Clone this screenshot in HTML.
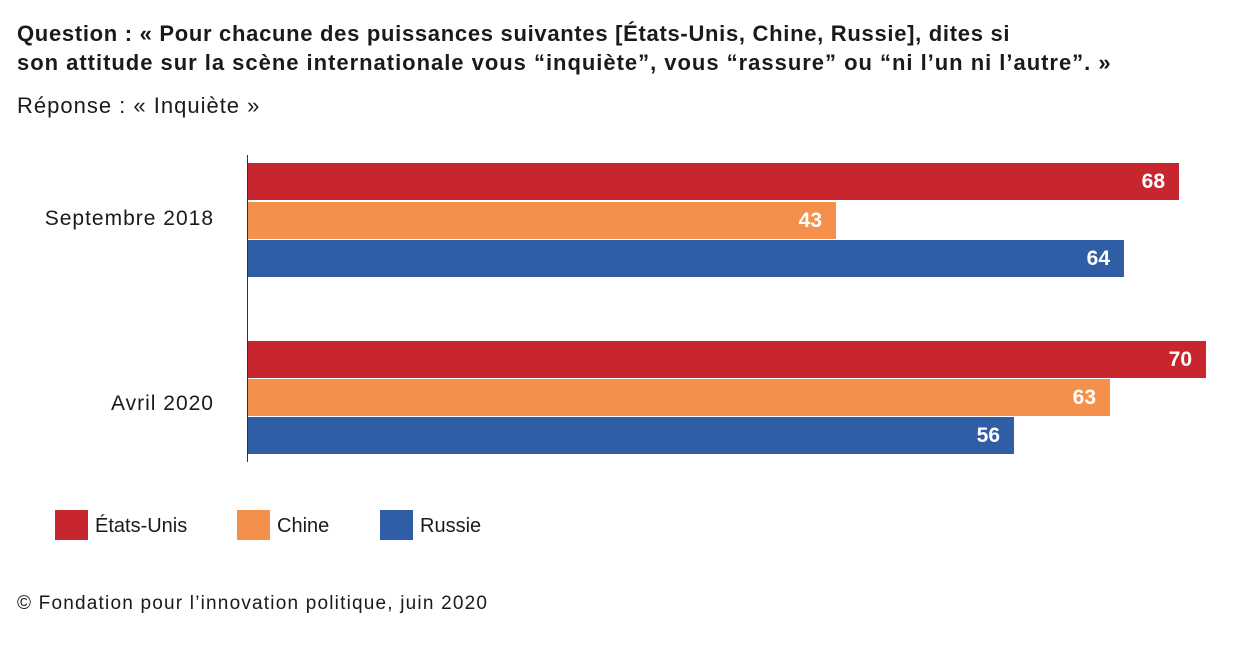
<!DOCTYPE html>
<html><head><meta charset="utf-8"><style>
body{margin:0;width:1250px;height:670px;background:#fff;font-family:"Liberation Sans",sans-serif;color:#1a1a1a;position:relative;overflow:hidden}
.a{position:absolute;white-space:nowrap}
.t{font-weight:bold;font-size:22px}
.bar{position:absolute;left:248px;height:37px}
.bar span{position:absolute;right:14px;top:7px;color:#fff;font-weight:bold;font-size:21px}
.r{background:#c8262f}.o{background:#f4904a}.b{background:#2f5da6}
.sq{position:absolute;width:33px;height:30px;top:510px}
.lg{font-size:20px;top:515px}
.yl{font-size:21px;letter-spacing:1px;width:214px;left:0;text-align:right}
</style></head><body>
<div class="a t" style="left:17px;top:21px;letter-spacing:0.7px">Question : « Pour chacune des puissances suivantes [États-Unis, Chine, Russie], dites si</div>
<div class="a t" style="left:17px;top:50px;letter-spacing:0.98px">son attitude sur la scène internationale vous “inquiète”, vous “rassure” ou “ni l’un ni l’autre”. »</div>
<div class="a" style="left:17px;top:93px;font-size:22px;letter-spacing:1px">Réponse : « Inquiète »</div>
<div class="a" style="left:247px;top:155px;width:1px;height:307px;background:#333"></div>
<div class="a yl" style="top:207px">Septembre 2018</div>
<div class="a yl" style="top:392px">Avril 2020</div>
<div class="bar r" style="top:163px;width:931px"><span>68</span></div>
<div class="bar o" style="top:202px;width:588px"><span>43</span></div>
<div class="bar b" style="top:240px;width:876px"><span>64</span></div>
<div class="bar r" style="top:341px;width:958px"><span>70</span></div>
<div class="bar o" style="top:379px;width:862px"><span>63</span></div>
<div class="bar b" style="top:417px;width:766px"><span>56</span></div>
<div class="sq r" style="left:55px"></div><div class="a lg" style="left:95px">États-Unis</div>
<div class="sq o" style="left:237px"></div><div class="a lg" style="left:277px">Chine</div>
<div class="sq b" style="left:380px"></div><div class="a lg" style="left:420px">Russie</div>
<div class="a" style="left:17px;top:593px;font-size:19px;letter-spacing:1.2px">© Fondation pour l’innovation politique, juin 2020</div>
</body></html>
